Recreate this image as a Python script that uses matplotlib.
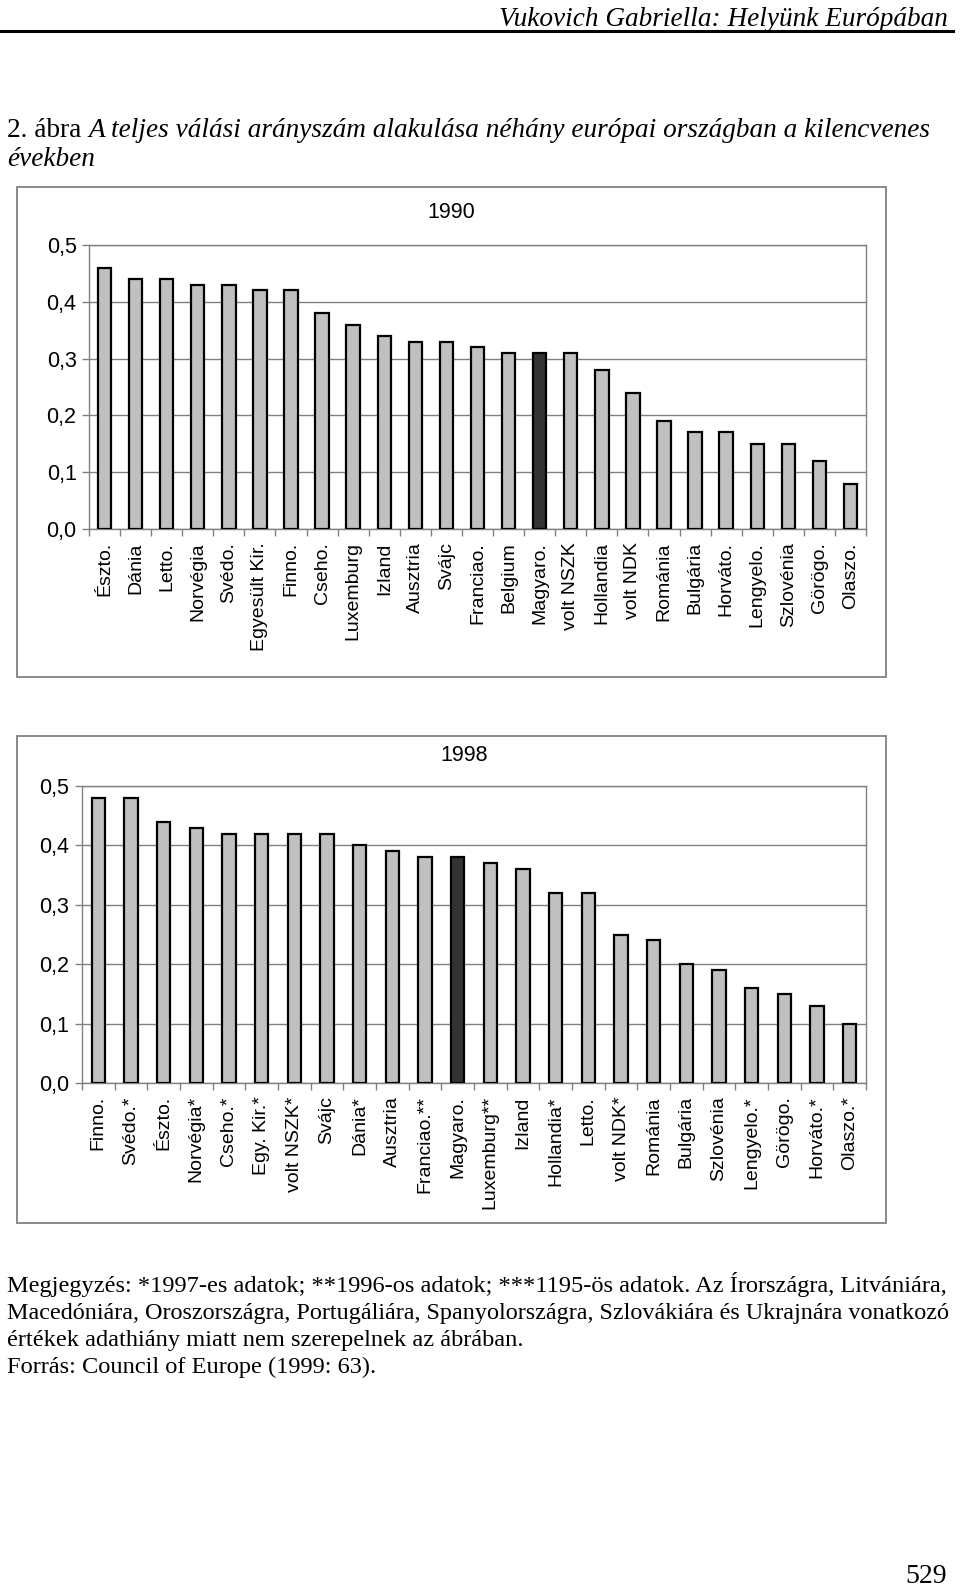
import matplotlib
matplotlib.use("Agg")
import matplotlib.pyplot as plt
from matplotlib.patches import Rectangle
from matplotlib.lines import Line2D
from matplotlib.ticker import FixedLocator, FuncFormatter

# ---------------- data ----------------
countries_1990 = ["Észto.", "Dánia", "Letto.", "Norvégia", "Svédo.", "Egyesült Kir.",
                  "Finno.", "Cseho.", "Luxemburg", "Izland", "Ausztria", "Svájc",
                  "Franciao.", "Belgium", "Magyaro.", "volt NSZK", "Hollandia",
                  "volt NDK", "Románia", "Bulgária", "Horváto.", "Lengyelo.",
                  "Szlovénia", "Görögo.", "Olaszo."]
values_1990 = [0.46, 0.44, 0.44, 0.43, 0.43, 0.42, 0.42, 0.38, 0.36, 0.34, 0.33, 0.33,
               0.32, 0.31, 0.31, 0.31, 0.28, 0.24, 0.19, 0.17, 0.17, 0.15, 0.15,
               0.12, 0.08]

countries_1998 = ["Finno.", "Svédo.*", "Észto.", "Norvégia*", "Cseho.*", "Egy. Kir.*",
                  "volt NSZK*", "Svájc", "Dánia*", "Ausztria", "Franciao.**",
                  "Magyaro.", "Luxemburg**", "Izland", "Hollandia*", "Letto.",
                  "volt NDK*", "Románia", "Bulgária", "Szlovénia", "Lengyelo.*",
                  "Görögo.", "Horváto.*", "Olaszo.*"]
values_1998 = [0.48, 0.48, 0.44, 0.43, 0.42, 0.42, 0.42, 0.42, 0.40, 0.39, 0.38,
               0.38, 0.37, 0.36, 0.32, 0.32, 0.25, 0.24, 0.20, 0.19, 0.16, 0.15,
               0.13, 0.10]

highlight = "Magyaro."
yticks = [0.0, 0.1, 0.2, 0.3, 0.4, 0.5]

header_text = "Vukovich Gabriella: Helyünk Európában"
title_prefix = "2. ábra "
title_line1 = "A teljes válási arányszám alakulása néhány európai országban a kilencvenes"
title_line2 = "években"
notes = [
    "Megjegyzés: *1997-es adatok; **1996-os adatok; ***1195-ös adatok. Az Írországra, Litvániára,",
    "Macedóniára, Oroszországra, Portugáliára, Spanyolországra, Szlovákiára és Ukrajnára vonatkozó",
    "értékek adathiány miatt nem szerepelnek az ábrában.",
    "Forrás: Council of Europe (1999: 63).",
]
page_number = "529"

# ---------------- layout ----------------
W, H = 960, 1588
fig = plt.figure(figsize=(W / 100, H / 100), dpi=100)
fig.patch.set_facecolor("white")
SERIF = "Liberation Serif"
SANS = "Liberation Sans"
GRAY = "#808080"


def fx(x):
    return x / W


def fy(y):
    return 1 - y / H


renderer = fig.canvas.get_renderer()


def fit_text(x, y, s, target_w, **kw):
    t = fig.text(fx(x), fy(y), s, fontsize=10, **kw)
    w = t.get_window_extent(renderer).width
    t.set_fontsize(10 * target_w / w)
    return t


# header
fit_text(948, 26, header_text, 450, ha="right", va="baseline",
         family=SERIF, style="italic")
fig.add_artist(Line2D([0, fx(953)], [fy(31), fy(31)], color="black", lw=2.2,
                      transform=fig.transFigure))

# title (regular prefix + italic remainder)
tsize = 19.5
tp = fig.text(fx(7), fy(137), title_prefix, fontsize=tsize, family=SERIF,
              ha="left", va="baseline")
pw = tp.get_window_extent(renderer).width
ti = fig.text(fx(7 + pw), fy(137), title_line1, fontsize=tsize, family=SERIF,
              style="italic", ha="left", va="baseline")
tw = ti.get_window_extent(renderer).width
scale = (931 - 7) / (pw + tw)
tsize *= scale
tp.set_fontsize(tsize)
pw = tp.get_window_extent(renderer).width
ti.set_fontsize(tsize)
ti.set_x(fx(7 + pw))
fig.text(fx(7), fy(166), title_line2, fontsize=tsize, family=SERIF,
         style="italic", ha="left", va="baseline")


def draw_chart(box, plot, cats, vals, year, year_xy, bar_w):
    bx0, by0, bx1, by1 = box
    fig.add_artist(Rectangle((fx(bx0), fy(by1)), (bx1 - bx0) / W, (by1 - by0) / H,
                             transform=fig.transFigure, fill=False,
                             edgecolor=GRAY, lw=1.3))
    px0, py0, px1, py1 = plot
    ax = fig.add_axes([fx(px0), fy(py1), (px1 - px0) / W, (py1 - py0) / H])
    n = len(cats)
    colors = ["#333333" if c == highlight else "#C0C0C0" for c in cats]
    ax.bar(range(n), vals, width=bar_w, color=colors, edgecolor="black",
           linewidth=1.6, zorder=3)
    ax.set_xlim(-0.5, n - 0.5)
    ax.set_ylim(0, 0.5)
    ax.set_yticks(yticks)
    ax.yaxis.set_major_formatter(FuncFormatter(lambda v, p: f"{v:.1f}".replace(".", ",")))
    ax.yaxis.grid(True, color=GRAY, lw=1.0, zorder=0)
    ax.set_axisbelow(True)
    for sp in ax.spines.values():
        sp.set_color(GRAY)
        sp.set_linewidth(1.0)
    ax.tick_params(axis="y", direction="out", length=5, width=1, color=GRAY,
                   labelsize=15.5, labelcolor="black", pad=4)
    ax.set_xticks(range(n))
    ax.set_xticklabels(cats, rotation=90, fontsize=14, family=SANS,
                       ha="center", va="top")
    ax.tick_params(axis="x", which="major", length=0, pad=9.5)
    ax.xaxis.set_minor_locator(FixedLocator([k + 0.5 for k in range(-1, n)]))
    ax.tick_params(axis="x", which="minor", direction="out", length=5, width=1,
                   color=GRAY)
    for lbl in ax.get_yticklabels():
        lbl.set_family(SANS)
    fig.text(fx(year_xy[0]), fy(year_xy[1]), year, fontsize=15.5, family=SANS,
             ha="center", va="center")
    return ax


draw_chart((17, 187, 886, 677), (89, 245, 866, 529), countries_1990, values_1990,
           "1990", (451, 213), 0.43)
draw_chart((17, 736, 886, 1223), (82, 786, 866, 1083), countries_1998, values_1998,
           "1998", (464, 755), 0.40)

# notes
t0 = fit_text(7, 1292, notes[0], 942, family=SERIF, ha="left", va="baseline")
nsize = t0.get_fontsize()
fit_text(7, 1292 + 27, notes[1], 942, family=SERIF, ha="left", va="baseline")
for i, line in enumerate(notes[2:], start=2):
    fig.text(fx(7), fy(1292 + 27 * i), line, fontsize=nsize, family=SERIF,
             ha="left", va="baseline")

fig.text(fx(947), fy(1583), page_number, fontsize=20, family=SERIF,
         ha="right", va="baseline")

fig.savefig("out.png", dpi=100, facecolor="white")
